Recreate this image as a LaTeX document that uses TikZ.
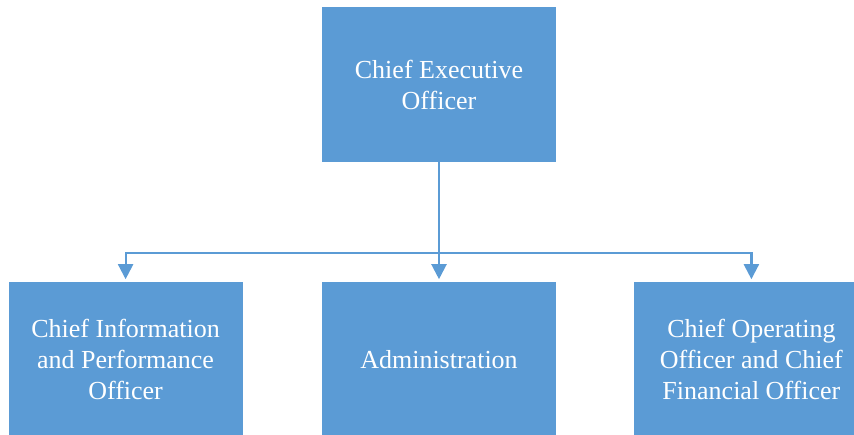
\documentclass[tikz,border=0pt]{standalone}
\usepackage{fontspec}
\setmainfont{Liberation Serif}
\usepackage{tikz}
\usetikzlibrary{positioning}
\usetikzlibrary{arrows.meta}
\definecolor{boxblue}{HTML}{5B9BD5}

\begin{document}
\begin{tikzpicture}[x=1pt,y=1pt,
  node distance=120pt and 78pt,
  post/.style={fill=boxblue, draw=none, text=white, minimum width=234pt,
    minimum height=155pt, align=center,
    font=\rmfamily\fontsize{26}{31}\selectfont},
  link/.style={draw=boxblue, line width=2.2pt, shorten >=3pt,
    -{Triangle[width=15pt,length=15pt]}}]
\useasboundingbox (0,0) rectangle (854,434);
% Define nodes
% Top node
\node[post] (ceo) at (439,349.5) {Chief Executive\\Officer};
% Bottom row
\node[post, below=of ceo] (admin) {Administration};
\node[post, left=79pt of admin] (cipo) {Chief Information\\and Performance\\Officer};
\node[post, right=of admin] (coo) {Chief Operating\\Officer and Chief\\Financial Officer};
\coordinate (bus) at (439,181);

% Edges
\draw[link] (ceo) -- (admin);
\draw[link] (bus) -| (cipo);
\draw[link] (bus) -| (coo);
\end{tikzpicture}
\end{document}
